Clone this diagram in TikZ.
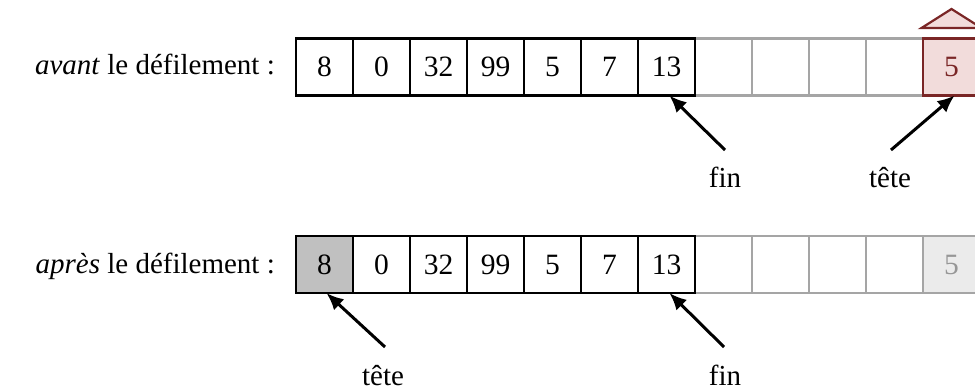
\documentclass[tikz,border=0pt]{standalone}
\usepackage{fontspec}
\setmainfont{Liberation Serif}
\usetikzlibrary{arrows.meta}
\definecolor{redfill}{RGB}{242,220,219}
\definecolor{redline}{RGB}{122,38,38}
\definecolor{grayline}{RGB}{165,165,165}
\definecolor{headfill}{RGB}{192,192,192}
\definecolor{ghostfill}{RGB}{235,235,235}
\definecolor{ghosttext}{RGB}{150,150,150}
\tikzset{
  cell/.style={draw=black, line width=2.2pt, minimum width=57pt, minimum height=57pt, inner sep=0pt, anchor=center},
  emptycell/.style={cell, draw=grayline},
  redcell/.style={cell, draw=redline, fill=redfill, text=redline},
  headcell/.style={cell, fill=headfill},
  ghostcell/.style={cell, draw=grayline, fill=ghostfill, text=ghosttext},
  lab/.style={font=\fontsize{29}{32}\selectfont, inner sep=0pt},
  ptr/.style={line width=3pt, -{Latex[length=17pt,width=15pt]}}
}
\begin{document}
\begin{tikzpicture}[x=1pt,y=-1pt, every node/.style={font=\fontsize{29.5}{32}\selectfont}]
\useasboundingbox (0,0) rectangle (975,390);
\clip (0,0) rectangle (975,390);
% ---- top row
\foreach \i in {7,...,10} {
  \node[emptycell] (t\i) at ({324.5+57*\i},67) {};
}
\node[redcell] (t11) at ({324.5+57*11},67) {5};
\draw[draw=redline, fill=redfill, line width=2.2pt] ({324.5+57*11-30},28) -- ({324.5+57*11},9) -- ({324.5+57*11+30},28) -- cycle;
\foreach \v [count=\j from 0] in {8,0,32,99,5,7,13} {
  \node[cell] (t\j) at ({324.5+57*\j},67) {\v};
}
\node[lab, anchor=base east] (avant) at (275,75) {\textit{avant} le défilement :};
\coordinate (finA) at (725,150);
\coordinate (teteA) at (891,150);
\node[lab, anchor=base] (finlabA) at (725,188) {fin};
\node[lab, anchor=base] (tetelabA) at (890,188) {tête};
\draw[ptr] (finA) -- ([xshift=3pt,yshift=1pt]t6.south);
\draw[ptr] (teteA) -- ([xshift=3pt,yshift=1pt]t11.south);
% ---- bottom row
\foreach \i in {7,...,10} {
  \node[emptycell] (b\i) at ({324.5+57*\i},264.5) {};
}
\node[ghostcell] (b11) at ({324.5+57*11},264.5) {5};
\node[headcell] (b0) at (324.5,264.5) {8};
\foreach \v [count=\j from 1] in {0,32,99,5,7,13} {
  \node[cell] (b\j) at ({324.5+57*\j},264.5) {\v};
}
\node[lab, anchor=base east] (apres) at (275,273) {\textit{après} le défilement :};
\coordinate (teteB) at (385,347);
\coordinate (finB) at (724,347);
\node[lab, anchor=base] (tetelabB) at (383,385) {tête};
\node[lab, anchor=base] (finlabB) at (725,385) {fin};
\draw[ptr] (teteB) -- ([xshift=2pt,yshift=1pt]b0.south);
\draw[ptr] (finB) -- ([xshift=3pt,yshift=1pt]b6.south);
\end{tikzpicture}
\end{document}
